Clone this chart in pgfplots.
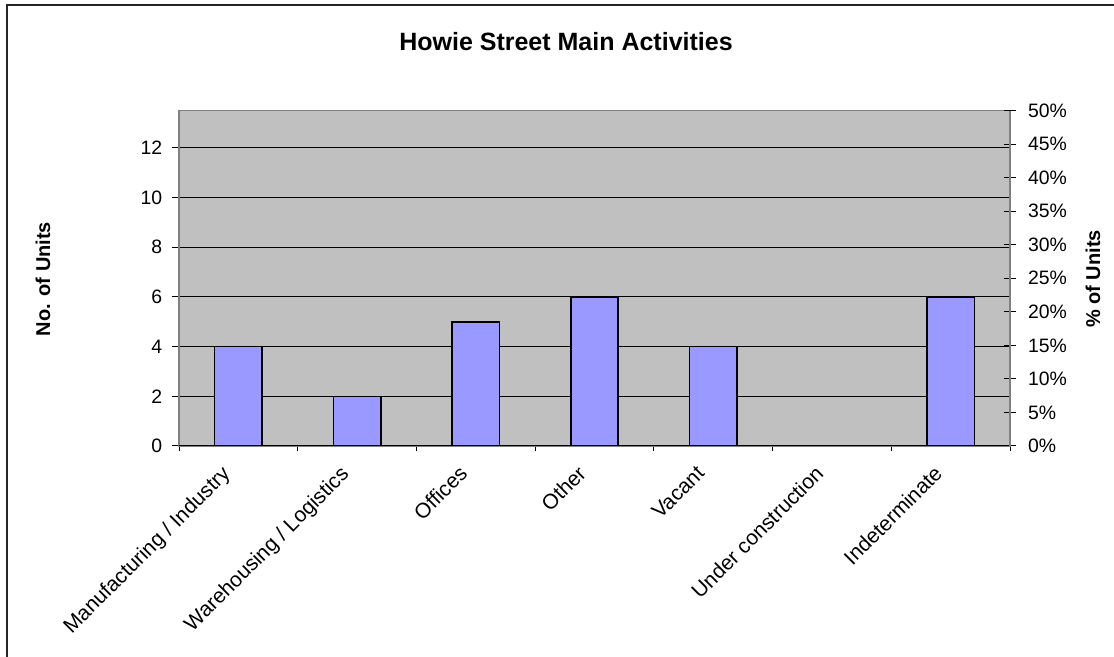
\documentclass[border=0pt]{standalone}
\usepackage{fontspec}
\setmainfont{Liberation Sans}
\usepackage{pgfplots}
\pgfplotsset{compat=1.18}
\definecolor{plotgray}{HTML}{C0C0C0}
\definecolor{barblue}{HTML}{9999FF}
\definecolor{framegray}{HTML}{808080}
\begin{document}
\begin{tikzpicture}
\useasboundingbox (0,0) rectangle (557pt,328.5pt);
\draw[line width=1pt, black!85] (3.5pt,-5pt) -- (3.5pt,326pt) -- (565pt,326pt);
\begin{axis}[
  at={(89.5pt,105.5pt)}, anchor=south west,
  scale only axis, width=415.5pt, height=167.7pt,
  xmin=-0.5, xmax=6.5, ymin=0, ymax=13.5,
  axis background/.style={fill=plotgray},
  axis line style={framegray, line width=0.75pt},
  xtick={0,...,6},
  xticklabels={Manufacturing / Industry, Warehousing / Logistics, Offices, Other, Vacant, Under construction, Indeterminate},
  major x tick style={draw=none},
  minor xtick={-0.5,0.5,...,6.5},
  minor x tick style={black, line width=0.5pt},
  minor tick length=2.5pt,
  xtick align=outside,
  ytick={0,2,...,12},
  ytick align=outside,
  major tick length=3.5pt,
  y tick style={black, line width=0.5pt},
  ymajorgrids,
  major grid style={black, line width=0.5pt},
  /pgf/number format/assume math mode=true,
  yticklabel style={font=\fontsize{9.7}{11}\selectfont, inner sep=0pt, xshift=-4.7pt},
  xticklabel style={font=\fontsize{10.5}{12}\selectfont, xshift=-9pt, yshift=-5.5pt, rotate=45, anchor=north east, inner sep=0pt},
  ytick pos=left, xtick pos=bottom,
]
\addplot[ybar, bar width=23.7pt, fill=barblue, draw=black, line width=0.75pt]
  coordinates {(0,4) (1,2) (2,5) (3,6) (4,4) (5,0) (6,6)};
\draw[black, line width=0.6pt] (axis cs:-0.5,0) -- (axis cs:6.5,0);
\end{axis}
\begin{axis}[
  at={(89.5pt,105.5pt)}, anchor=south west,
  scale only axis, width=415.5pt, height=167.7pt,
  xmin=-0.5, xmax=6.5, ymin=0, ymax=50,
  axis x line=none, axis y line*=right,
  axis line style={framegray, line width=0.75pt},
  ytick={0,5,...,50},
  yticklabel={\pgfmathprintnumber{\tick}\%},
  ytick align=center, major tick length=6pt,
  y tick style={black, line width=0.5pt},
  /pgf/number format/assume math mode=true,
  yticklabel style={font=\fontsize{9.7}{11}\selectfont, inner sep=0pt, anchor=west, xshift=5.8pt},
]
\end{axis}
\node[font=\bfseries\fontsize{12.5}{14}\selectfont] at (283pt,307.5pt) {Howie Street Main Activities};
\node[font=\bfseries\fontsize{10}{12}\selectfont, rotate=90] at (21.5pt,189pt) {No. of Units};
\node[font=\bfseries\fontsize{10}{12}\selectfont, rotate=90] at (546.5pt,189pt) {\% of Units};
\end{tikzpicture}
\end{document}
